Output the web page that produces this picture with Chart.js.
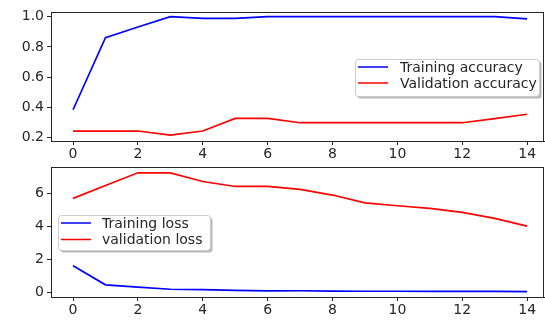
<!DOCTYPE html>
<html>
<head>
<meta charset="utf-8">
<script src="https://cdn.jsdelivr.net/npm/chart.js@4/dist/chart.umd.min.js"></script>
<style>
  html, body { margin: 0; padding: 0; background: #fff; }
  body { width: 545px; height: 327px; position: relative; overflow: hidden; }
  canvas { position: absolute; left: 0; }
  #acc { top: 0; }
  #loss { top: 150px; }
</style>
</head>
<body>
<canvas id="acc" width="545" height="160"></canvas>
<canvas id="loss" width="545" height="177"></canvas>
<script>
// Epochs and training history
const epochs = [0, 1, 2, 3, 4, 5, 6, 7, 8, 9, 10, 11, 12, 13, 14];
const trainAcc = [0.384, 0.861, 0.932, 1.0, 0.989, 0.989, 1.0, 1.0, 1.0, 1.0, 1.0, 1.0, 1.0, 1.0, 0.985];
const valAcc   = [0.243, 0.243, 0.243, 0.216, 0.243, 0.327, 0.327, 0.298, 0.298, 0.298, 0.298, 0.298, 0.298, 0.325, 0.354];
const trainLoss = [1.60, 0.44, 0.30, 0.17, 0.15, 0.10, 0.07, 0.08, 0.06, 0.05, 0.05, 0.04, 0.04, 0.04, 0.03];
const valLoss   = [5.68, 6.46, 7.23, 7.22, 6.70, 6.40, 6.40, 6.22, 5.88, 5.41, 5.23, 5.07, 4.83, 4.47, 4.00];

// Tick labels
const xTicks = [0, 2, 4, 6, 8, 10, 12, 14];
const accTicks = [0.2, 0.4, 0.6, 0.8, 1.0];
const lossTicks = [0, 2, 4, 6];

const FONT = 'DejaVu Sans';
const INK = '#262626';

// Box around the plotting area plus a legend with a drop shadow
const framePlugin = {
  id: 'frame',
  afterDraw(chart, args, opts) {
    const ctx = chart.ctx;
    const a = chart.chartArea;
    ctx.save();
    ctx.strokeStyle = INK;
    ctx.lineWidth = 1;
    ctx.strokeRect(Math.round(a.left) + 0.5, Math.round(a.top) + 0.5,
                   Math.round(a.right - a.left) - 1, Math.round(a.bottom - a.top));
    // legend
    const L = opts.legend;
    if (L) {
      const r = 3;
      const rr = (x, y, w, h) => {
        ctx.beginPath();
        ctx.moveTo(x + r, y);
        ctx.lineTo(x + w - r, y);
        ctx.arcTo(x + w, y, x + w, y + r, r);
        ctx.lineTo(x + w, y + h - r);
        ctx.arcTo(x + w, y + h, x + w - r, y + h, r);
        ctx.lineTo(x + r, y + h);
        ctx.arcTo(x, y + h, x, y + h - r, r);
        ctx.lineTo(x, y + r);
        ctx.arcTo(x, y, x + r, y, r);
        ctx.closePath();
      };
      ctx.fillStyle = 'rgba(128,128,128,0.55)';
      rr(L.x + 2.5, L.y + 2.5, L.w, L.h);
      ctx.fill();
      ctx.fillStyle = '#fff';
      rr(L.x, L.y, L.w, L.h);
      ctx.fill();
      ctx.strokeStyle = '#cccccc';
      ctx.lineWidth = 1;
      rr(L.x + 0.5, L.y + 0.5, L.w, L.h);
      ctx.stroke();
      ctx.font = '14px "' + FONT + '"';
      ctx.textBaseline = 'middle';
      chart.data.datasets.forEach((ds, i) => {
        const y = L.y + L.row0 + i * L.rowGap;
        ctx.strokeStyle = ds.borderColor;
        ctx.lineWidth = 1.5;
        ctx.beginPath();
        ctx.moveTo(L.x + 3, y);
        ctx.lineTo(L.x + 33, y);
        ctx.stroke();
        ctx.fillStyle = INK;
        ctx.fillText(ds.label, L.x + L.textX, y + 1);
      });
    }
    ctx.restore();
  }
};

function makeChart(id, series, yMin, yMax, yTicks, fmt, padTop, xAxisH, legend) {
  return new Chart(document.getElementById(id), {
    type: 'line',
    data: {
      datasets: series.map(s => ({
        label: s.label,
        data: epochs.map((e, i) => ({ x: e, y: s.values[i] })),
        borderColor: s.color,
        borderWidth: 1.7,
        pointRadius: 0,
        tension: 0,
        fill: false
      }))
    },
    options: {
      responsive: false,
      animation: false,
      devicePixelRatio: 1,
      layout: { padding: { top: padTop, right: 1, left: 0, bottom: 0 } },
      plugins: {
        legend: { display: false },
        tooltip: { enabled: false },
        frame: { legend }
      },
      scales: {
        x: {
          type: 'linear',
          min: -0.68,
          max: 14.52,
          afterBuildTicks: sc => { sc.ticks = xTicks.map(v => ({ value: v })); },
          afterFit: sc => { sc.height = xAxisH; },
          grid: { display: true, drawOnChartArea: false, drawTicks: true, tickLength: 4, color: INK, lineWidth: 1 },
          border: { display: true, color: INK, width: 1 },
          ticks: { color: INK, font: { family: FONT, size: 14 }, padding: 1, maxRotation: 0, autoSkip: false }
        },
        y: {
          type: 'linear',
          min: yMin,
          max: yMax,
          afterBuildTicks: sc => { sc.ticks = yTicks.map(v => ({ value: v })); },
          afterFit: sc => { sc.width = 51; },
          grid: { display: true, drawOnChartArea: false, drawTicks: true, tickLength: 4, color: INK, lineWidth: 1 },
          border: { display: true, color: INK, width: 1 },
          ticks: { color: INK, font: { family: FONT, size: 14 }, padding: 3, callback: fmt, autoSkip: false }
        }
      }
    },
    plugins: [framePlugin]
  });
}

// legend positions are in each canvas's own coordinates
makeChart('acc', [
  { label: 'Training accuracy', values: trainAcc, color: '#0000ff' },
  { label: 'Validation accuracy', values: valAcc, color: '#ff0000' }
], 0.177, 1.031, accTicks, v => v.toFixed(1), 12, 19,
  { x: 355, y: 59, w: 184, h: 37, row0: 8, rowGap: 16, textX: 45 });

makeChart('loss', [
  { label: 'Training loss', values: trainLoss, color: '#0000ff' },
  { label: 'validation loss', values: valLoss, color: '#ff0000' }
], -0.3, 7.58, lossTicks, v => String(v), 17, 30,
  { x: 58, y: 65, w: 152, h: 35, row0: 8, rowGap: 16.5, textX: 44 });
</script>
</body>
</html>
